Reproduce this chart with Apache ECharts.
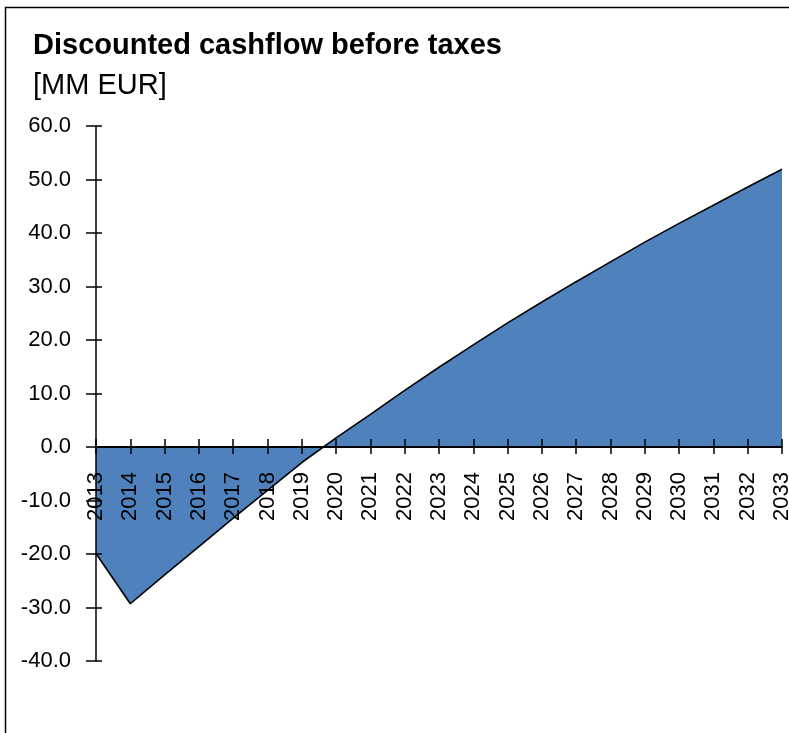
<!DOCTYPE html>
<html>
<head>
<meta charset="utf-8">
<script src="https://cdn.jsdelivr.net/npm/echarts@6/dist/echarts.min.js"></script>
<style>
  html, body { margin: 0; padding: 0; background: #fff; }
  #chart { width: 789px; height: 733px; }
</style>
</head>
<body>
<div id="chart"></div>
<script>
const titleText = 'Discounted cashflow before taxes';
const unitText = '[MM EUR]';
const years = ['2013','2014','2015','2016','2017','2018','2019','2020','2021','2022','2023','2024','2025','2026','2027','2028','2029','2030','2031','2032','2033'];
const cashflow = [-19.9, -29.3, -23.9, -18.6, -13.3, -8.1, -2.9, 1.7, 6.1, 10.6, 14.9, 19.1, 23.2, 27.1, 30.9, 34.6, 38.3, 41.8, 45.2, 48.6, 51.9];
const yMin = -40, yMax = 60, yStep = 10;

const chart = echarts.init(document.getElementById('chart'), null, { renderer: 'canvas' });
const FONT = '"Liberation Sans", Arial, sans-serif';

const yBase = {
  type: 'value', min: yMin, max: yMax, interval: yStep, position: 'left',
  splitLine: { show: false }, z: 5
};

function xAxes(offset) {
  return [
    {
      type: 'category', data: years, boundaryGap: false, position: 'bottom', z: 5, offset: offset,
      axisLine: { onZero: false, lineStyle: { color: '#000', width: 2 } },
      axisTick: { show: true, inside: true, length: 8, interval: 0, lineStyle: { color: '#000', width: 1.5 } },
      axisLabel: { show: true, interval: 0, rotate: 90, margin: 25, color: '#000', fontFamily: FONT, fontSize: 22 },
      splitLine: { show: false }
    },
    {
      type: 'category', data: years, boundaryGap: false, position: 'bottom', z: 5, offset: offset,
      axisLine: { show: false, onZero: false },
      axisTick: { show: true, inside: false, length: 7, interval: 0, lineStyle: { color: '#000', width: 1.5 } },
      axisLabel: { show: false },
      splitLine: { show: false }
    }
  ];
}

chart.setOption({
  backgroundColor: '#ffffff',
  animation: false,
  title: [
    { text: titleText, left: 33, top: 30, padding: 0,
      textStyle: { fontFamily: FONT, fontSize: 29, fontWeight: 'bold', color: '#000', lineHeight: 32 } },
    { text: unitText, left: 33, top: 70, padding: 0,
      textStyle: { fontFamily: FONT, fontSize: 29, fontWeight: 'normal', color: '#000', lineHeight: 32 } }
  ],
  graphic: [
    { type: 'rect', shape: { x: 5.5, y: 7.5, width: 1000, height: 1000 },
      style: { fill: 'none', stroke: '#000', lineWidth: 1.5 }, silent: true, z: 100 }
  ],
  grid: { left: 96, right: 7, top: 126, bottom: 72, containLabel: false, outerBoundsMode: 'none' },
  xAxis: xAxes(0),
  yAxis: [
    Object.assign({}, yBase, {
      axisLine: { show: true, lineStyle: { color: '#000', width: 1.5 } },
      axisTick: { show: true, inside: false, length: 10, lineStyle: { color: '#000', width: 1.5 } },
      axisLabel: { show: true, margin: 25, color: '#000', fontFamily: FONT, fontSize: 22,
        formatter: v => v.toFixed(1) }
    }),
    Object.assign({}, yBase, {
      axisLine: { show: false },
      axisTick: { show: true, inside: true, length: 6, lineStyle: { color: '#000', width: 1.5 } },
      axisLabel: { show: false }
    })
  ],
  series: [
    {
      type: 'line', data: cashflow, xAxisIndex: 0, yAxisIndex: 0,
      symbol: 'none', smooth: false, z: 2,
      lineStyle: { color: '#000', width: 1.6 },
      areaStyle: { color: '#4F81BD', opacity: 1, origin: 'auto' }
    }
  ]
});

// Place the category axis on the zero line of the value axis (via the library's scale)
const zeroY = chart.convertToPixel({ yAxisIndex: 0 }, 0);
const bottomY = chart.convertToPixel({ yAxisIndex: 0 }, yMin);
chart.setOption({ xAxis: xAxes(zeroY - bottomY) });
</script>
</body>
</html>
